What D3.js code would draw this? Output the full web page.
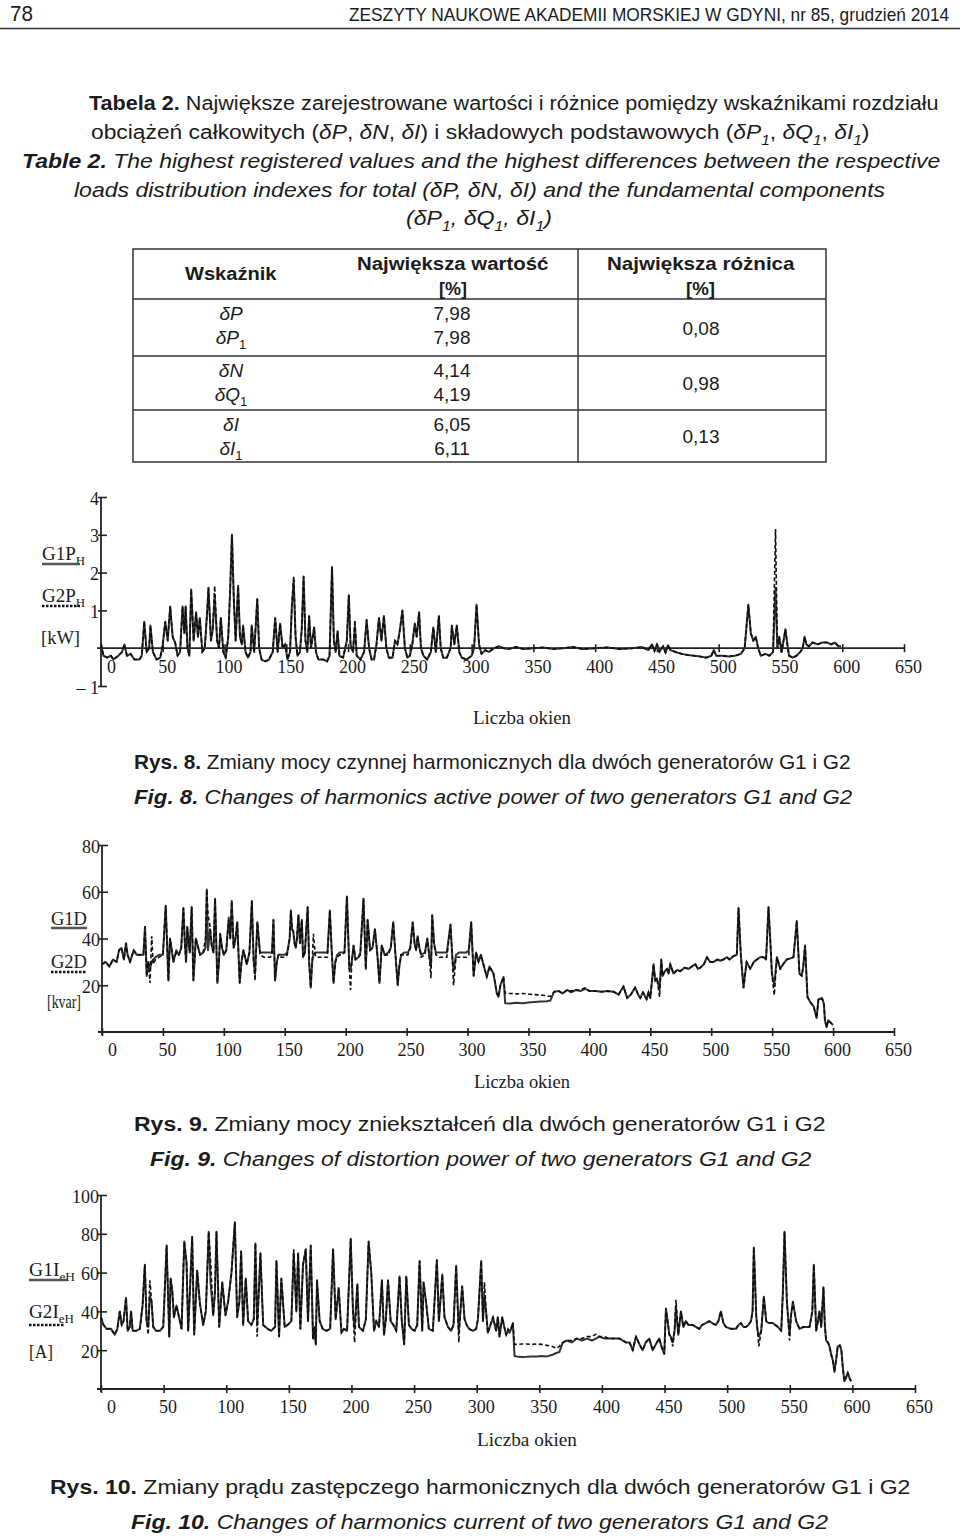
<!DOCTYPE html>
<html><head><meta charset="utf-8">
<script src="https://cdn.jsdelivr.net/npm/d3@7"></script>
<style>body{margin:0;background:#fff}svg{display:block}</style>
</head><body>
<svg id="page" width="960" height="1536"></svg>
<script>
// ---------------- DATA ----------------
const headerPage = "78";
const headerJournal = "ZESZYTY NAUKOWE AKADEMII MORSKIEJ W GDYNI, nr 85, grudzień 2014";

const tableHeaders = ["Wskaźnik", "Największa wartość", "Największa różnica"];
const tableUnit = "[%]";
const tableIndicators = ["δP", "δP", "δN", "δQ", "δI", "δI"];
const tableIndicatorSubs = ["", "1", "", "1", "", "1"];
const tableMaxValues = ["7,98", "7,98", "4,14", "4,19", "6,05", "6,11"];
const tableDiffs = ["0,08", "0,98", "0,13"];

const xTickValues = [0,50,100,150,200,250,300,350,400,450,500,550,600,650];
const xAxisTitle = "Liczba okien";

// Fig. 8 – harmonics active power [kW]
const fig8Windows = [
 0,2,5,8,10,14,17,19,21,24,
 27,31,33,35,37,39,40,42,45,48,
 50,52,54,56,58,60,62,64,66,67.5,
 68.5,70,71.5,73,75,77,78.5,80,82,84,
 86,87,89,90.5,92,94,95.5,97,99,101,
 103,104.5,106,107.5,109,111,112.5,114,115,117,
 119,121,122,124,126.5,128,130,133,136,139,
 141,143,145,147,149,151,153,154.5,156,157.5,
 159,161,162.5,164,165.5,167,168.5,170,172.5,174,
 176,180,183,185,187,188.5,190,191.5,193,196,
 199,200.6,202,204,205.5,207,210,213,215,217,
 219,221,223,225,227,229,231,233,236,238,
 240,242,244,246,248,250,252,254,255.5,257.5,
 259,261,264,267,269,271,273.5,275,277,280,
 283,284,286,288,290,292,296,300,302,304,
 306,308,311,314,318,322,326,330,336,342,
 350,358,366,374,382,390,400,410,420,430,
 438,443,446,448,450,452,455,457,459,461,
 465,470,475,480,485,490,494,496,498,503,
 508,513,518,521,524,526,528,530,532,534,
 538,541,544,546,547.5,549,551,552.5,554,556,
 557,560,563,566,568,569.5,571,573,576,580,
 584,588,591,594,597,599];
const fig8G1 = [
 0.1,-0.2,-0.25,-0.2,-0.3,-0.2,-0.1,0.1,-0.2,-0.15,
 -0.3,-0.3,-0.2,0.7,-0.1,0.0,0.6,-0.1,-0.3,-0.25,
 0.1,0.7,0.2,1.1,0.3,0.15,-0.2,-0.1,1.1,0.4,
 1.1,0.0,-0.2,1.55,0.2,0.95,0.3,0.8,-0.1,0.0,
 1.0,1.6,0.2,0.5,1.4,0.2,0.0,0.8,-0.1,-0.25,
 0.3,1.5,3.0,1.3,0.2,1.65,0.3,0.1,0.6,-0.1,
 -0.25,-0.1,0.6,-0.1,1.3,0.0,-0.3,-0.35,-0.3,-0.1,
 0.8,-0.1,0.65,0.0,0.1,-0.3,-0.1,1.1,1.8,0.3,
 -0.2,-0.1,0.5,1.9,0.2,-0.1,0.85,0.0,0.55,-0.1,
 -0.3,-0.3,-0.35,-0.2,2.15,0.2,-0.1,0.45,-0.2,-0.25,
 0.2,1.4,0.1,-0.1,0.6,-0.2,-0.3,-0.1,0.75,0.0,
 -0.3,-0.3,0.1,0.8,0.2,0.85,0.0,-0.25,-0.25,0.2,
 0.1,0.5,1.0,0.0,-0.25,-0.2,0.1,0.65,0.3,0.95,
 0.0,-0.2,-0.3,-0.1,0.55,-0.1,0.85,0.0,-0.25,-0.25,
 0.0,0.6,0.1,0.6,-0.1,-0.25,-0.3,-0.2,0.0,1.15,
 0.1,-0.15,-0.05,-0.1,0.0,0.05,0.0,-0.02,0.03,-0.02,
 0.0,0.02,-0.02,0.0,0.03,-0.02,0.0,0.02,-0.02,0.0,
 0.03,-0.05,0.1,-0.08,0.1,-0.1,0.05,-0.12,0.08,-0.05,
 -0.1,-0.15,-0.18,-0.2,-0.22,-0.25,-0.2,-0.05,-0.2,-0.2,
 -0.22,-0.2,-0.15,0.0,1.15,0.4,0.2,0.3,0.0,-0.2,
 -0.15,-0.2,-0.1,1.6,0.0,0.3,-0.1,0.2,0.5,0.0,
 -0.2,-0.25,-0.2,-0.1,0.0,0.3,0.1,0.05,0.15,0.1,
 0.15,0.15,0.1,0.15,0.05,0.05];
const fig8G2 = [
 0.1,-0.2,-0.25,-0.2,-0.3,-0.2,-0.1,0.1,-0.2,-0.15,
 -0.3,-0.3,-0.2,0.7,-0.1,0.0,0.6,-0.1,-0.3,-0.25,
 0.1,0.7,0.2,1.1,0.3,0.15,-0.2,-0.1,1.1,0.4,
 1.1,0.0,-0.2,1.55,0.2,0.95,0.3,0.8,-0.1,0.0,
 1.0,1.6,0.2,0.5,1.65,0.2,0.0,0.8,-0.1,-0.25,
 0.3,1.5,3.0,1.3,0.2,1.65,0.3,0.1,0.6,-0.1,
 -0.25,-0.1,0.6,-0.1,1.3,0.0,-0.3,-0.35,-0.3,-0.1,
 0.8,-0.1,0.65,0.0,0.1,-0.3,-0.1,1.1,1.9,0.3,
 -0.2,-0.1,0.5,1.9,0.2,-0.1,0.85,0.0,0.55,-0.1,
 -0.3,-0.3,-0.35,-0.2,2.15,0.2,-0.1,0.45,-0.2,-0.25,
 0.2,1.4,0.1,-0.1,0.75,-0.2,-0.3,-0.1,0.75,0.0,
 -0.3,-0.3,0.1,0.8,0.2,0.85,0.0,-0.25,-0.25,0.2,
 0.1,0.5,1.0,0.0,-0.25,-0.2,0.1,0.65,0.3,0.95,
 0.0,-0.2,-0.3,-0.1,0.55,-0.1,0.85,0.0,-0.25,-0.25,
 0.0,0.6,0.1,0.6,-0.1,-0.25,-0.3,-0.2,0.0,1.15,
 0.1,-0.15,-0.05,-0.1,0.0,0.05,0.0,-0.02,0.03,-0.02,
 0.0,0.02,-0.02,0.0,0.03,-0.02,0.0,0.02,-0.02,0.0,
 0.03,-0.05,0.1,-0.08,0.1,-0.1,0.05,-0.12,0.08,-0.05,
 -0.1,-0.15,-0.18,-0.2,-0.22,-0.25,-0.2,-0.05,-0.2,-0.2,
 -0.22,-0.2,-0.15,0.0,1.15,0.4,0.2,0.3,0.0,-0.2,
 -0.15,-0.2,-0.1,3.15,0.0,0.3,-0.1,0.2,0.5,0.0,
 -0.2,-0.25,-0.2,-0.1,0.0,0.3,0.1,0.05,0.15,0.1,
 0.15,0.15,0.1,0.15,0.05,0.05];
const fig8YTicks = [-1,1,2,3,4];

// Fig. 9 – distortion power [kvar]
const fig9Windows = [
 0,3,6,9,12,14,16,18,19.7,21,
 23,26,28.5,32,34,35.3,36.7,38,39.4,40.8,
 42,44,47,50,52.3,54.5,55.8,57,58.6,61,
 63,65,66.8,68,69,70,72,73.6,75,77,
 79,80.5,83,85,86,87,88.7,90,91.5,92.8,
 94.7,96,97,98.5,100,102,104,105.3,106.5,108,
 109,110,111,113,114.5,116,118.8,121,123,124.5,
 125.6,127.5,129.7,133,136,138,139.5,140.7,142,143.5,
 144.8,147,150,152,154,155,156,157,158,159,
 160,161.2,162.5,164,165,166.5,168.8,170,171.3,172.5,
 173.5,175,176,179,182,185,187,188.5,190,191.5,
 193,195,197,199,201,203,204,205,206.4,208,
 210.5,212,214.6,216.5,218,220,222,224,226,227.7,
 229.6,232,235,237,239,241,242.7,244,245.5,248,
 251,253,255,256.5,257.8,259,260.5,262,265,267,
 268.5,270,271,272.5,274,277,280,283,286,287.5,
 288.5,290.5,293,296,299,301,303,305,307,309,
 311,313,315.8,318,321.3,324,325.4,327,329.5,330.9,
 335,340,345,350,355,360,365,368,371,375,
 378,381.7,385,389,392.6,396.7,400,405,410,415,
 420,424,428,431,434,437.6,440,441.8,444,446,
 447,448.5,450,452.7,454,455.4,457.6,459,460,462,
 463.7,465,466.4,469,472,474.6,478,481.5,484,487,
 489,491,494,496.5,499,502,505,507.4,510,512.9,
 515,518.3,521,522.4,524.3,526.5,529,532,535,537.5,
 540,543,545,547,548.4,549.8,551.7,553.9,556.6,559,
 562,565,567.5,570.2,572.4,574.3,575.5,577,579,581,
 584,586.5,588,591,592.5,593.3,594.7,596,598,600];
const fig9G1 = [
 29,30,28,31,30,35,36,31,38,33,
 30,35,33,33,33,45,24,30,27,30,
 31,32,33,33,54,22,40,36,30,35,
 33,36,53,38,30,45,34,53.5,22,40,
 36,33,34,36,61,35,44,37,34,57,
 21,30,42,36,33,35,49,40,56,36,
 38,42,47,21,30,35,29,34,56,30,
 25,47,34,34,34,34,34,48,22,30,
 33,33,33,34,40,52,44,43,38,36,
 40,50,38,48,32,34,53.5,30,19,30,
 33,34,34,34,34,34,52,35,21,30,
 33,34,34,34,58,27,27,30,37,31,
 32,34,57,27,48,35,36,44,33,21,
 37,33,34,36,47,32,20,28,33,34,
 34,36,47,38,35,41,36,33,34,40,
 33,28,50,38,34,34,34,34,46,32,
 26,33,34,34,34,35,47,24,34,30,
 33,29,23.5,28,25,16.6,15,20,23.5,12.3,
 12.2,12.5,12.3,12.6,12.8,13,13.2,13.5,17.2,17.5,
 16.5,18,17,18,17.5,18.5,17.5,17.5,17.2,17.5,
 17.2,16,19.5,14.5,16,19,16,14.5,17,15,
 14,17,14.5,29,22,23,18,31,24,26,
 27,25,29,25,26.5,26,27.5,27,28,29,
 27,27.5,29,32,30,30,31,30.5,31,32,
 31,32.5,33,53,33,19,30,27,30,31,
 32,32,31,53.5,40,25,20,32,27,29,
 31,31.5,32,47.5,25,24,28,37,15,13,
 11,6,14,14.4,12,5,2,5,4,3];
const fig9G2 = [
 29,30,28,31,30,35,36,31,38,33,
 30,35,33,33,33,45,24,30,21,41,
 29,31,32,33,54,22,40,36,30,34,
 33,35,53,38,30,45,34,53.5,22,40,
 36,33,34,40,61,50,45,37,34,57,
 21,30,42,36,33,35,48,40,56,36,
 38,42,47,21,30,35,29,34,56,30,
 22,47,33,32,32,32,33,48,22,30,
 33,32,32,33,40,52,44,43,38,36,
 40,50,38,48,32,34,53.5,30,19,30,
 42,33,32,32,32,32,52,35,21,30,
 32,33,33,34,58,27,18,30,37,31,
 32,33,57,27,48,35,36,44,33,21,
 37,33,33,36,47,32,20,28,33,33,
 33,36,47,38,35,41,36,32,33,40,
 33,23,50,38,33,32,32,32,46,32,
 20,32,32,32,32,33,47,24,34,30,
 33,29,23.5,28,25,16.6,15,20,23.5,16.5,
 16.5,16.3,16.5,16.2,16,15.8,15.5,15.2,17.2,17.5,
 16.5,18,17.5,18,18,19,17.5,17.5,17.2,17.5,
 17.2,16,19.5,14.5,16,19,16,14.5,17,15,
 14,17,14.5,29,22,23,15,31,24,26,
 27,25,29,25,26.5,26,27.5,27,28,29,
 27,27.5,29,32,30,30,31,30.5,31,32,
 31,32.5,33,53,33,19,30,27,30,31,
 32,32,31,53.5,40,25,15.7,32,27,29,
 31,31.5,32,47.5,25,24,28,37,15,13,
 11,6,14,14.4,12,5,2,5,4,3];
const fig9YTicks = [20,40,60,80];

// Fig. 10 – harmonics equivalent current [A]
const fig10Windows = [
 0,2,4.5,8,11,13,15,16.5,18,20,
 21.3,23,24,25.3,28,31,33.2,35,36.4,37.7,
 39,40.4,41.7,44,47,49.7,52.4,53.7,54.5,55.6,
 57,58.2,60.3,63,64.3,66.5,68.3,69.6,71,72.8,
 74.4,76.8,79,81.6,83.7,86,87.5,89.6,91,92.2,
 94.4,96.8,99.4,101.5,104.2,106.9,108.7,110.5,111.9,113.5,
 115.6,117.5,120.1,122,123.3,124.7,126,127.3,129.5,133,
 136,139,140.1,142.2,144,146.7,149,152,153.9,156,
 157.4,159.2,161.3,163.5,165.3,167.5,169.3,170.5,171.5,172.5,
 174.6,177,180,183,185.3,187.4,189.8,192,194,196.5,
 199.4,201.2,202.5,204.7,206,209.2,211.5,213.7,215.8,218,
 219.8,222,224.3,226,227.5,229.2,231.3,233.5,235.8,238.4,
 240.2,242.1,243.8,245.9,248,250.4,252.5,254.4,256.5,257.6,
 259.7,261.8,265,268.2,269.8,271,272.5,274.3,277,279.6,
 281.5,283.6,285.7,287,288.4,290.3,292,294,297,299.6,
 301,303.6,305,306.2,307.5,308.9,311,313,315.5,316.9,
 318.2,320.4,322,323.5,325,326.2,327.5,328.9,330.2,332,
 336,340,344,348,352,356,360,364,366,368.7,
 372,376,380,384,388,392,395.2,398,402,406,
 410,414,419.2,422,424.6,427.2,430,432.5,435,437.8,
 440.5,443,445.8,447.5,449.8,451.1,452.5,453.8,455,456.5,
 458,459.1,461,463.1,465,467,469,472.4,475,477.7,
 480,483,485.7,488,491,493,495,497,499,503,
 507,509,511,513,515,517,519,520.3,521.3,522.3,
 523.2,524.3,525.3,527.2,529.3,531.2,533,536.5,540.5,543.2,
 544.5,545.8,547.7,549.8,551,552.5,555.1,557.8,561,565.8,
 568,569.2,571.1,572.5,573.7,575.1,576.9,578,579,580.5,
 581.7,583,584.3,585.7,587,588.3,590,591.2,592.3,593.6,
 595,596.3,597.5,598.9];
const fig10G1 = [
 37,33,31,31,28,31,40,33,35,47,
 30,32,40,30,30,31,43,64,35,32,
 48,45,32,30,30,32,74,45,27,57,
 50,37,43,35,31,76,65,30,50,78.5,
 28,61,44,33,40,81,55,38,50,81,
 32,55,38,45,60,86,37,45,71,33,
 57,35,33,36,75,33,50,70,33,31,
 30,32,66,27,57,32,33,35,70,40,
 70,31,64,72,35,74,26,32,23,56,
 35,31,30,31,72,36,52,29,31,30,
 77.5,40,31,54,32,30,36,76,60,30,
 35,32,56,28,36,56,35,33,30,58,
 35,23,58,33,31,30,33,66,30,55,
 44,31,30,66.5,35,45,59,37,32,30,
 33,63.5,30,40,53,36,33,31,30,31,
 36,66,35,48,40,29,33,37,30,37,
 27,37,32,28,30,29,31,34,17,16.8,
 16.5,16.6,16.8,16.7,17,16.8,17.5,18.7,19,23.9,
 25,24,26,25,26,25,26,27,26,26,
 26,26,24,24,20,27,23,20,24,26,
 20,23,26,22,18,41.5,35,28,27,24,
 30,42,28,40,32,35,33,33,32,31,
 33,34,35,34,33,35,40,34,32,31,
 31,33,34,32,32,33,35,40,73,55,
 38,30,27,30,47.5,35,34,34,32,30,
 50,81,45,28,38,45,35,31,32,32,
 40,64,30,35,40,32,52.4,33,25,24,
 22,18,15,8.8,15,22,22.5,20,11.5,4,
 6,8.4,6,4];
const fig10G2 = [
 37,33,31,31,28,31,40,33,35,47,
 30,32,40,30,30,31,43,64,35,28,
 56,45,32,30,30,32,74,45,27,57,
 50,37,43,35,31,76,65,30,50,78.5,
 28,61,44,33,40,81,66,38,50,81,
 32,55,38,45,60,86,37,45,71,33,
 57,35,33,36,75,27,50,70,33,31,
 30,32,66,27,57,32,33,35,72,40,
 70,31,64,72,35,74,26,32,23,56,
 35,31,30,31,72,36,52,29,31,30,
 77.5,40,24,54,32,30,36,76,60,30,
 35,32,56,28,36,56,35,33,30,58,
 35,23,58,33,31,30,33,66,30,55,
 44,31,30,66.5,35,45,59,37,32,30,
 33,63.5,24,40,53,36,33,31,30,31,
 36,66,35,55,40,29,33,37,30,37,
 27,37,32,28,31,30,31,34,23,23,
 23.2,23.2,23,23.2,23,22.5,22,21,22,23.9,
 25,25,26,26,27,27,28.3,27,27,26,
 26,26,24,24,20,27,23,20,24,26,
 20,23,26,22,18,41.5,35,28,27,22,
 30,46,28,40,32,35,33,33,32,31,
 33,34,35,34,33,35,40,34,32,31,
 31,33,34,32,32,33,35,40,73,55,
 38,30,22,30,47.5,35,34,34,32,30,
 50,81,45,25,38,45,35,31,32,32,
 40,64,30,35,40,32,52.4,33,25,24,
 22,18,15,8.8,15,22,22.5,20,11.5,4,
 6,8.4,6,4];
const fig10YTicks = [20,40,60,80,100];

// ---------------- RENDER ----------------
const SANS = "'Liberation Sans', Arial, sans-serif";
const NARROW = "'Liberation Sans Narrow', 'Liberation Sans', Arial, sans-serif";
const SERIF = "'Liberation Serif', 'Times New Roman', serif";
const INK = "#1b1b1b";
const svg = d3.select("#page");
svg.append("rect").attr("width",960).attr("height",1536).attr("fill","#fff");

// rich text fitted to [x0,x1]; style codes: b=bold, i=italic, s=subscript
function rich(parent, segs, x0, x1, base, size, fam) {
  const t = parent.append("text").attr("x",0).attr("y",0)
    .attr("font-family",fam).attr("font-size",size).attr("fill",INK);
  let sub = false;
  segs.forEach(([s, st]) => {
    const ts = t.append("tspan").text(s);
    if (st.includes("b")) ts.attr("font-weight","bold");
    if (st.includes("i")) ts.attr("font-style","italic");
    const isSub = st.includes("s");
    if (isSub && !sub) ts.attr("dy", size*0.28);
    if (!isSub && sub) ts.attr("dy", -size*0.28);
    if (isSub) ts.attr("font-size", size*0.68);
    sub = isSub;
  });
  const w = t.node().getBBox().width;
  const sx = (x1 != null && w > 0) ? (x1 - x0) / w : 1;
  t.attr("transform", `translate(${x0},${base}) scale(${sx},1)`);
  return t;
}

// header
rich(svg, [[headerPage,""]], 10, 33, 21, 22, NARROW);
rich(svg, [[headerJournal,""]], 349, 950, 21, 19, NARROW);
svg.append("line").attr("x1",0).attr("x2",960).attr("y1",28.5).attr("y2",28.5)
  .attr("stroke","#333").attr("stroke-width",1.6);

// table caption
const capSize = 21;
rich(svg, [["Tabela 2.","b"],[" Największe zarejestrowane wartości i różnice pomiędzy wskaźnikami rozdziału",""]], 89, 939, 110, capSize, NARROW);
rich(svg, [["obciążeń całkowitych (",""],["δP","i"],[", ",""],["δN","i"],[", ",""],["δI","i"],[") i składowych podstawowych (",""],["δP","i"],["1","is"],[", ",""],["δQ","i"],["1","is"],[", ",""],["δI","i"],["1","is"],[")",""]], 91, 870, 139, capSize, NARROW);
rich(svg, [["Table 2.","bi"],[" The highest registered values and the highest differences between the respective","i"]], 22, 941, 168, capSize, NARROW);
rich(svg, [["loads distribution indexes for total (δP, δN, δI) and the fundamental components","i"]], 74, 886, 197, capSize, NARROW);
rich(svg, [["(δP","i"],["1","is"],[", δQ","i"],["1","is"],[", δI","i"],["1","is"],[")","i"]], 406, 552, 225, capSize, NARROW);

// table
const tb = svg.append("g");
const tL = 133, tR = 826, tC = 578;
const rowsY = [249, 299, 356, 410, 462];
tb.append("rect").attr("x",tL).attr("y",rowsY[0]).attr("width",tR-tL).attr("height",rowsY[4]-rowsY[0])
  .attr("fill","none").attr("stroke","#333").attr("stroke-width",1.5);
rowsY.slice(1,4).forEach(yy => tb.append("line").attr("x1",tL).attr("x2",tR).attr("y1",yy).attr("y2",yy)
  .attr("stroke","#333").attr("stroke-width",1.5));
tb.append("line").attr("x1",tC).attr("x2",tC).attr("y1",rowsY[0]).attr("y2",rowsY[4])
  .attr("stroke","#333").attr("stroke-width",1.5);
rich(tb, [[tableHeaders[0],"b"]], 185, 277, 280, 19, NARROW);
rich(tb, [[tableHeaders[1],"b"]], 357, 549, 270, 19, NARROW);
rich(tb, [[tableHeaders[2],"b"]], 607, 795, 270, 19, NARROW);
rich(tb, [[tableUnit,"b"]], 439, 467, 295, 19, NARROW);
rich(tb, [[tableUnit,"b"]], 686, 715, 295, 19, NARROW);
const colInd = 231, colVal = 452, colDiff = 701;
tableIndicators.forEach((lab, i) => {
  const r = Math.floor(i/2), k = i % 2;
  const base = rowsY[r+1] + 21 + k*24;
  const t = tb.append("text").attr("x",colInd).attr("y",base).attr("text-anchor","middle")
    .attr("font-family",SANS).attr("font-size",19).attr("font-style","italic").attr("fill",INK);
  t.append("tspan").text(lab);
  if (tableIndicatorSubs[i]) t.append("tspan").attr("dy",5).attr("font-size",13).attr("font-style","normal").text(tableIndicatorSubs[i]);
  tb.append("text").attr("x",colVal).attr("y",base).attr("text-anchor","middle")
    .attr("font-family",SANS).attr("font-size",19).attr("fill",INK).text(tableMaxValues[i]);
});
tableDiffs.forEach((v, r) => {
  tb.append("text").attr("x",colDiff).attr("y",(rowsY[r+1]+rowsY[r+2])/2 + 7).attr("text-anchor","middle")
    .attr("font-family",SANS).attr("font-size",19).attr("fill",INK).text(v);
});

// charts
function drawChart(c) {
  const g = svg.append("g");
  const x = d3.scaleLinear().domain([0,650]).range([c.x0, c.x650]);
  const y = d3.scaleLinear().domain(c.yDom).range([c.yBot, c.yTop]);
  const y0 = y(0);
  const n = Math.min(c.win.length, c.g1.length, c.g2.length);
  const idx = d3.range(n);
  const line1 = d3.line().x(i => x(c.win[i])).y(i => y(c.g1[i]));
  const line2 = d3.line().x(i => x(c.win[i])).y(i => y(c.g2[i]));
  // x axis
  const xa = g.append("g").attr("transform",`translate(0,${y0})`)
    .call(d3.axisBottom(x).tickValues(xTickValues).tickSizeOuter(0).tickFormat(d3.format("d")));
  xa.attr("font-family",SERIF).attr("font-size",18);
  xa.select(".domain").remove();
  xa.selectAll(".tick line").attr("y1",-4).attr("y2",4).attr("stroke","#222").attr("stroke-width",1.6);
  xa.selectAll(".tick text").attr("dy",null).attr("y",c.xLabDy).attr("x", d => d === 0 ? 10 : 4).attr("fill",INK);
  g.append("line").attr("x1",c.x0-4).attr("x2",x(650)).attr("y1",y0).attr("y2",y0)
    .attr("stroke","#222").attr("stroke-width",1.8);
  // y axis
  const ya = g.append("g").attr("transform",`translate(${c.x0},0)`)
    .call(d3.axisLeft(y).tickValues(c.yTicks).tickSizeOuter(0).tickFormat(c.yFmt));
  ya.attr("font-family",SERIF).attr("font-size",18);
  ya.select(".domain").remove();
  ya.selectAll(".tick line").attr("x1",-3).attr("x2",6).attr("stroke","#222").attr("stroke-width",1.6);
  ya.selectAll(".tick text").attr("dy",null).attr("y",7).attr("x",-2).attr("fill",INK);
  g.append("line").attr("x1",c.x0).attr("x2",c.x0).attr("y1",y(c.yDom[1])).attr("y2",y(c.yDom[0])+c.yExt)
    .attr("stroke","#222").attr("stroke-width",1.8);
  // series
  g.append("path").datum(idx).attr("d",line1).attr("fill","none")
    .attr("stroke","#333").attr("stroke-width",2).attr("stroke-linejoin","round");
  g.append("path").datum(idx).attr("d",line2).attr("fill","none")
    .attr("stroke","#0d0d0d").attr("stroke-width",1.6).attr("stroke-dasharray","4 2.5");
  // axis title
  rich(g, [[xAxisTitle,""]], c.tx0, c.tx1, c.tBase, 18, SERIF);
  // legend labels
  c.labels.forEach(l => rich(g, l.segs, l.x0, l.x1, l.base, 19, SERIF));
  g.append("line").attr("x1",c.u1[0]).attr("x2",c.u1[1]).attr("y1",c.u1[2]).attr("y2",c.u1[2])
    .attr("stroke","#555").attr("stroke-width",2.6);
  g.append("line").attr("x1",c.u2[0]).attr("x2",c.u2[1]).attr("y1",c.u2[2]).attr("y2",c.u2[2])
    .attr("stroke","#111").attr("stroke-width",2.6).attr("stroke-dasharray","2.5 1.5");
}

drawChart({win:fig8Windows, g1:fig8G1, g2:fig8G2, x0:101, x650:904, yDom:[-1,4], yBot:686, yTop:497,
  yTicks:fig8YTicks, yFmt:d => d < 0 ? "– " + Math.abs(d) : String(d), yExt:0, xLabDy:25,
  tx0:473, tx1:571, tBase:724,
  labels:[{segs:[["G1P",""],["H","s"]], x0:42, x1:85, base:560},
          {segs:[["G2P",""],["H","s"]], x0:42, x1:85, base:602},
          {segs:[["[kW]",""]], x0:41, x1:80, base:644}],
  u1:[42,80,564], u2:[42,80,606]});

drawChart({win:fig9Windows, g1:fig9G1, g2:fig9G2, x0:102, x650:894, yDom:[0,80], yBot:1032, yTop:845,
  yTicks:fig9YTicks, yFmt:d3.format("d"), yExt:3, xLabDy:24,
  tx0:474, tx1:570, tBase:1088,
  labels:[{segs:[["G1D",""]], x0:51, x1:87, base:925},
          {segs:[["G2D",""]], x0:51, x1:87, base:968},
          {segs:[["[kvar]",""]], x0:47, x1:81, base:1008}],
  u1:[51,87,928], u2:[51,87,972]});

drawChart({win:fig10Windows, g1:fig10G1, g2:fig10G2, x0:101, x650:915, yDom:[0,100], yBot:1389, yTop:1195,
  yTicks:fig10YTicks, yFmt:d3.format("d"), yExt:3, xLabDy:24,
  tx0:477, tx1:577, tBase:1446,
  labels:[{segs:[["G1I",""],["eH","s"]], x0:29, x1:75, base:1276},
          {segs:[["G2I",""],["eH","s"]], x0:29, x1:74, base:1318},
          {segs:[["[A]",""]], x0:29, x1:53, base:1358}],
  u1:[29,67,1280], u2:[29,64,1325]});

// figure captions
const figSize = 21;
rich(svg, [["Rys. 8.","b"],[" Zmiany mocy czynnej harmonicznych dla dwóch generatorów G1 i G2",""]], 134, 851, 769, figSize, NARROW);
rich(svg, [["Fig. 8.","bi"],[" Changes of harmonics active power of two generators G1 and G2","i"]], 134, 853, 804, figSize, NARROW);
rich(svg, [["Rys. 9.","b"],[" Zmiany mocy zniekształceń dla dwóch generatorów G1 i G2",""]], 134, 826, 1131, figSize, NARROW);
rich(svg, [["Fig. 9.","bi"],[" Changes of distortion power of two generators G1 and G2","i"]], 150, 812, 1166, figSize, NARROW);
rich(svg, [["Rys. 10.","b"],[" Zmiany prądu zastępczego harmonicznych dla dwóch generatorów G1 i G2",""]], 50, 911, 1494, figSize, NARROW);
rich(svg, [["Fig. 10.","bi"],[" Changes of harmonics current of two generators G1 and G2","i"]], 131, 829, 1529, figSize, NARROW);
</script>
</body></html>
